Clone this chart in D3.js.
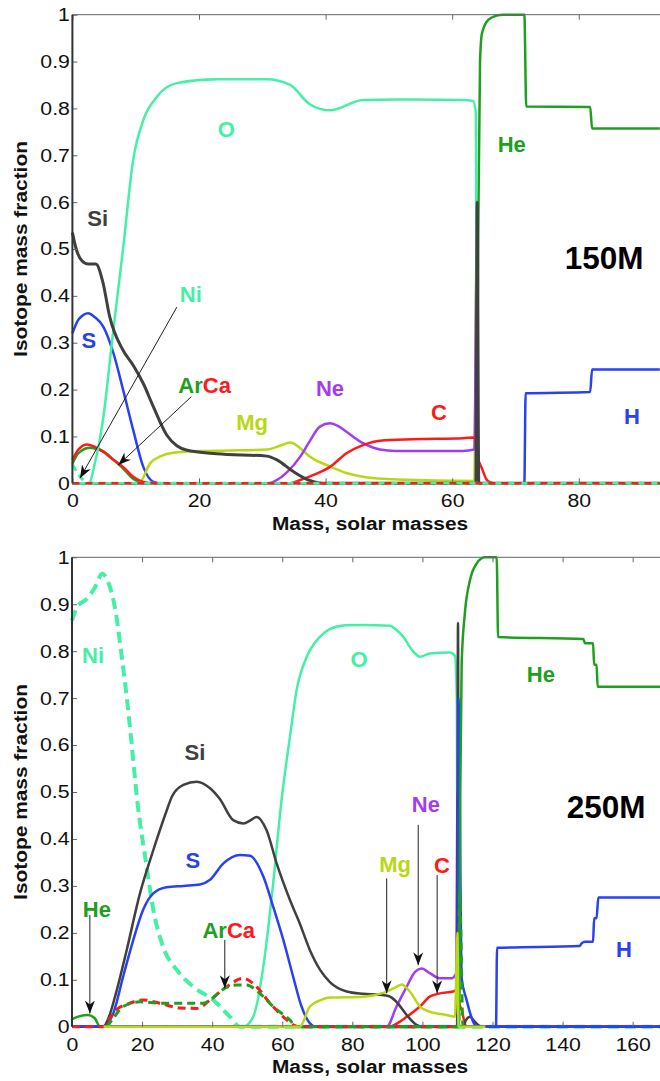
<!DOCTYPE html>
<meta charset="utf-8">
<style>
	body { margin: 0; background: #fff; }
	svg { display: block; font-family: "Liberation Sans", Arial, Helvetica, sans-serif; }
	.tick text { font-size: 18.5px; fill: #111; }
	.tick line { stroke: #666; }
	.lab { font-weight: bold; font-size: 22px; }
</style>
<script src="https://cdn.jsdelivr.net/npm/d3@7"></script>
<body>
<div id="chart"></div>
<script>
// ---------- data: 150 solar mass model (mass coordinate, mass fraction) ----------
let topSi = [[0,0.535],[0.6,0.5],[1.5,0.475],[2.5,0.468],[3.7,0.468],[4.8,0.43],[5.9,0.355],[8,0.284],[9.6,0.252],[11.2,0.213],[12.8,0.163],[14.9,0.103],[16.5,0.08],[18,0.071],[22.8,0.063],[30.7,0.058],[32.3,0.05],[34.9,0.025],[37.5,0.006],[39.5,0],[63.75,0],[63.95,0.6],[64.2,0],[92.8,0]];
let topO = [[0,0],[2.6,0],[3.5,0.04],[4.9,0.142],[6.4,0.32],[8,0.5],[9.6,0.69],[11.2,0.775],[13.3,0.824],[16.5,0.854],[22.8,0.862],[30.7,0.862],[34.4,0.85],[37.5,0.809],[40.7,0.796],[45.9,0.818],[51.2,0.819],[61.7,0.818],[63.3,0.816],[63.75,0.79],[63.9,0],[92.8,0]];
let topS = [[0,0.32],[1,0.35],[2.5,0.363],[3.5,0.355],[4.9,0.334],[6.5,0.277],[8,0.2],[9.6,0.114],[11.2,0.035],[12.8,0.003],[14,0],[92.8,0]];
let topCa = [[0,0.05],[1,0.073],[2.3,0.083],[3.5,0.078],[4.9,0.067],[6.5,0.05],[8,0.035],[9.6,0.014],[11.2,0.003],[12.5,0]];
let topAr = [[0,0.042],[1,0.065],[2.8,0.076],[4.9,0.068],[6.5,0.05],[8,0.032],[9.6,0.01],[10.8,0.002],[12,0]];
let topNi = [[0,0.04],[0.8,0.022],[1.7,0.007],[2.6,0],[92.8,0]];
let topMg = [[0,0],[10.5,0],[12.3,0.043],[14,0.058],[15.9,0.065],[20.1,0.069],[25,0.07],[30.7,0.072],[32.8,0.08],[34.4,0.087],[36,0.075],[37.5,0.057],[40.7,0.036],[43.3,0.022],[45.9,0.014],[51.3,0.008],[63.5,0.005],[63.85,0.5],[64.05,0],[92.8,0]];
let topNe = [[0,0],[31,0],[32.3,0.007],[34,0.025],[36,0.057],[37.5,0.09],[39.1,0.121],[40.7,0.128],[42,0.122],[43.3,0.11],[46,0.085],[48.6,0.072],[51,0.069],[61.7,0.069],[63.5,0.072],[63.9,0.5],[64.1,0],[92.8,0]];
let topC = [[0,0],[34,0],[36,0.007],[38.5,0.02],[40.7,0.035],[43.3,0.064],[46,0.082],[48.6,0.091],[53.8,0.094],[61.7,0.096],[63.6,0.098],[63.95,0.06],[64.7,0.032],[65.5,0.007],[66.5,0],[92.8,0]];
let topHe = [[0,0],[63.8,0],[64.1,0.5],[64.4,0.9],[64.7,0.96],[65.7,0.989],[67,0.998],[68.1,1],[71.4,1],[71.7,0.804],[81.8,0.803],[82.1,0.757],[92.8,0.757]];
let topH = [[0,0],[71.4,0],[71.6,0.192],[81.8,0.195],[82.1,0.243],[92.8,0.243]];
let topBase = [[0,0],[92.8,0]];

// ---------- data: 250 solar mass model ----------
let botNi = [[0,0.865],[1.5,0.895],[4,0.91],[6.5,0.935],[8.6,0.965],[10.2,0.95],[12.7,0.873],[14.2,0.788],[15.6,0.703],[17,0.604],[18.5,0.49],[21.3,0.341],[23.2,0.249],[26,0.17],[29.9,0.121],[34.6,0.085],[40.3,0.057],[45.1,0.021],[47.9,0],[168,0]];
let botO = [[0,0],[48.9,0],[51.7,0.021],[54.6,0.128],[57.4,0.305],[59.8,0.483],[62.2,0.618],[64.1,0.717],[67,0.788],[70.8,0.831],[73.6,0.847],[78,0.855],[83.1,0.856],[90.7,0.854],[92.6,0.845],[94.5,0.831],[97.4,0.799],[99.3,0.788],[102.1,0.795],[107.8,0.797],[109.3,0.79],[109.8,0.7],[110.1,0],[168,0]];
let botSi = [[0,0],[8.9,0],[10.5,0.02],[12.5,0.07],[15.6,0.163],[19.4,0.284],[23.2,0.376],[27,0.46],[28.5,0.49],[31.8,0.515],[35.6,0.522],[39.4,0.508],[42.2,0.485],[46,0.44],[48.9,0.433],[51,0.44],[52.7,0.447],[55.5,0.419],[58.4,0.348],[62.2,0.27],[65,0.22],[67.9,0.163],[70.8,0.121],[73.6,0.095],[78.4,0.075],[83,0.07],[87.9,0.068],[90.5,0.065],[92.6,0.053],[95.5,0.025],[98.3,0.004],[100,0],[109.9,0],[110.15,0.86],[110.4,0],[111.5,0],[112.5,0.015],[113.6,0.021],[115,0.01],[117,0],[168,0]];
let botS = [[0,0],[8.9,0],[10.3,0.008],[11.8,0.029],[14.6,0.107],[17.5,0.185],[20.3,0.249],[23.2,0.284],[27,0.297],[31.8,0.3],[36.5,0.303],[39.4,0.313],[43.2,0.348],[47.9,0.366],[50.8,0.364],[54.6,0.32],[57.4,0.256],[60.3,0.185],[63.1,0.107],[65.5,0.043],[67.9,0.007],[69.5,0],[110,0],[110.3,0.7],[111.2,0.103],[112.5,0.06],[114.5,0.01],[115.5,0],[168,0]];
let botCa = [[0,0],[8.9,0],[10.5,0.015],[12.7,0.036],[16.5,0.05],[20.3,0.057],[25.1,0.05],[30.8,0.04],[35.6,0.039],[39.4,0.057],[44.1,0.085],[48.9,0.103],[52.7,0.085],[56.5,0.05],[60.3,0.021],[63.1,0.004],[64.5,0],[110,0]];
let botAr = [[9.9,0],[11.5,0.015],[14.6,0.043],[19.4,0.053],[25.1,0.05],[32.7,0.05],[37.5,0.05],[40,0.06],[42.2,0.075],[47,0.089],[49.8,0.089],[53.6,0.071],[57.4,0.043],[62.2,0.014],[64.1,0],[110.4,0],[110.6,0.29],[111.6,0],[112,0]];
let botHe = [[0,0.016],[2,0.022],[4.6,0.025],[6.5,0.018],[8,0],[110.4,0],[110.8,0.5],[111.2,0.774],[112.1,0.88],[113.6,0.952],[115.5,0.987],[117.8,1],[121.2,1],[121.6,0.83],[145.9,0.826],[146.4,0.817],[148.7,0.817],[149,0.771],[149.7,0.771],[150,0.724],[168,0.724]];
let botH = [[0,0],[121,0],[121.3,0.168],[144.9,0.172],[145.5,0.178],[146.4,0.181],[148.7,0.181],[149,0.231],[149.7,0.231],[150.2,0.275],[168,0.275]];
let botMg = [[9,0],[65,0],[67.9,0.043],[70.8,0.056],[73.6,0.062],[83.1,0.064],[88.8,0.072],[92.6,0.085],[94.1,0.09],[96.4,0.075],[99.3,0.043],[102.1,0.032],[106.9,0.025],[109.3,0.021],[110,0.2],[110.3,0],[118,0]];
let botNe = [[0,0],[89.8,0],[92.6,0.043],[95.5,0.085],[97.9,0.117],[99.8,0.124],[102.1,0.114],[105,0.103],[108.3,0.103],[109.6,0.114],[110.05,0.5],[110.3,0],[168,0]];
let botC = [[0,0],[90.7,0],[93,0.008],[95.5,0.021],[99.3,0.043],[102.1,0.064],[105,0.071],[108.8,0.075],[109.7,0.08],[110.1,0.12],[110.5,0.05],[111.2,0.036],[112.5,0],[168,0]];
let botBase = [[0,0],[168,0]];

// tick values
let yTicks = d3.range(0, 11).map(i => i / 10);
let topXTicks = [0, 20, 40, 60, 80];
let botXTicks = [0, 20, 40, 60, 80, 100, 120, 140, 160];

// label annotations [text, x, y, colour key] in data units
let topLabels = [["Si",4.0,0.549,"Si"],["O",24.3,0.739,"O"],["S",2.6,0.289,"S"],["Ni",18.7,0.387,"O"],["Mg",28.4,0.114,"Mg"],["Ne",40.7,0.186,"Ne"],["C",57.9,0.135,"C"],["H",88.4,0.126,"H"],["He",69.4,0.707,"He"]];
let botLabels = [["Ni",6.0,0.775,"O"],["Si",35.1,0.569,"Si"],["O",81.9,0.766,"O"],["He",133.8,0.734,"He"],["S",34.5,0.338,"S"],["He",7.1,0.234,"He"],["Mg",92.2,0.33,"Mg"],["C",105.6,0.328,"C"],["Ne",101,0.457,"Ne"],["H",157.5,0.149,"H"]];
let topArCa = [20.6, 0.193];
let botArCa = [44.2, 0.189];
// arrows [x1, y1, x2(tip), y2(tip)]
let topArrows = [[16.5,0.376,1.2,0.011],[18.8,0.185,7.25,0.039]];
let botArrows = [[5.1,0.238,5.1,0.028],[43.6,0.185,43.6,0.082],[89.8,0.316,89.8,0.071],[98.8,0.43,98.8,0.131],[104.2,0.323,104.2,0.071]];

let col = {
	Si: "#404040", O: "#44f0a6", S: "#2a40f5", Ni: "#44f0a6", Ar: "#1ea01e",
	Ca: "#ff1a1a", Mg: "#b8d814", Ne: "#a23cf2", C: "#ff1a1a", He: "#1ea01e", H: "#2a40f5"
};

let svg = d3.select("#chart").append("svg")
	.attr("width", 660)
	.attr("height", 1081);

svg.append("defs").append("marker")
	.attr("id", "head")
	.attr("viewBox", "-13 -5 14 10")
	.attr("refX", 0).attr("refY", 0)
	.attr("markerUnits", "userSpaceOnUse")
	.attr("markerWidth", 14).attr("markerHeight", 10)
	.attr("orient", "auto")
	.append("path")
	.attr("d", "M0,0 L-13,-5 L-9,0 L-13,5 Z")
	.attr("fill", "#111");

function drawPanel(p) {
	let x = d3.scaleLinear().domain([0, p.xmax]).range([p.x0, 660]);
	let y = d3.scaleLinear().domain([0, 1]).range([p.y1, p.y0]);
	let g = svg.append("g");

	let line = d3.line()
		.x(d => x(d[0]))
		.y(d => y(d[1]))
		.curve(d3.curveMonotoneX);

	// lines
	p.series.forEach(s => {
		g.append("path")
			.attr("d", line(s.d))
			.attr("fill", "none")
			.attr("stroke", s.c)
			.attr("stroke-width", s.w || 2.5)
			.attr("stroke-dasharray", s.dash || null)
			.attr("stroke-linejoin", "round");
	});

	// axes, Matlab style with ticks pointing in
	let ya = g.append("g")
		.attr("transform", `translate(${p.x0},0)`)
		.call(d3.axisLeft(y).tickValues(yTicks).tickSize(-5).tickPadding(2.5)
			.tickFormat(d => String(d)));
	ya.select(".domain").remove();
	ya.selectAll("text").attr("x", -2.5 / 1.15).attr("transform", "scale(1.15,1)");

	let xa = g.append("g")
		.attr("transform", `translate(0,${p.y1})`)
		.call(d3.axisBottom(x).tickValues(p.xticks).tickSize(-5).tickPadding(11));
	xa.select(".domain").remove();
	xa.selectAll("text").attr("transform", "scale(1.15,1)");

	let xt = g.append("g")
		.attr("transform", `translate(0,${p.y0})`)
		.call(d3.axisTop(x).tickValues(p.xticks).tickSize(-5).tickFormat(""));
	xt.select(".domain").remove();

	g.append("line")
		.attr("x1", p.x0).attr("x2", 660)
		.attr("y1", p.y0).attr("y2", p.y0)
		.attr("stroke", "#666").attr("stroke-width", 1);
	g.append("line")
		.attr("x1", p.x0).attr("x2", p.x0)
		.attr("y1", p.y0).attr("y2", p.y1)
		.attr("stroke", "#333").attr("stroke-width", 2);

	// axis titles
	g.append("text")
		.attr("transform", `translate(370,${p.xLabY}) scale(1.13,1)`)
		.attr("text-anchor", "middle")
		.style("font-weight", "bold").style("font-size", "18.5px")
		.attr("fill", "#111")
		.text("Mass, solar masses");
	g.append("text")
		.attr("transform", `translate(27,${(p.y0 + p.y1) / 2}) rotate(-90) scale(1.13,1)`)
		.attr("text-anchor", "middle")
		.style("font-weight", "bold").style("font-size", "18.5px")
		.attr("fill", "#111")
		.text("Isotope mass fraction");

	// arrows
	p.arrows.forEach(a => {
		g.append("line")
			.attr("x1", x(a[0])).attr("y1", y(a[1]))
			.attr("x2", x(a[2])).attr("y2", y(a[3]))
			.attr("stroke", "#222").attr("stroke-width", 1)
			.attr("marker-end", "url(#head)");
	});

	// element labels
	p.labels.forEach(l => {
		g.append("text")
			.attr("class", "lab")
			.attr("x", x(l[1])).attr("y", y(l[2]))
			.attr("text-anchor", "middle")
			.attr("fill", col[l[3]])
			.text(l[0]);
	});
	g.append("text").attr("class", "lab")
		.attr("x", x(p.arca[0])).attr("y", y(p.arca[1]))
		.attr("text-anchor", "end").attr("fill", col.Ar).text("Ar");
	g.append("text").attr("class", "lab")
		.attr("x", x(p.arca[0])).attr("y", y(p.arca[1]))
		.attr("text-anchor", "start").attr("fill", col.Ca).text("Ca");

	g.append("text")
		.attr("x", x(p.title[1])).attr("y", y(p.title[2]))
		.attr("text-anchor", "middle")
		.style("font-weight", "bold").style("font-size", "31.5px")
		.attr("fill", "#000")
		.text(p.title[0]);
}

drawPanel({
	x0: 72.4, y0: 14.7, y1: 483.3, xmax: 92.83, xticks: topXTicks, xLabY: 530,
	series: [
		{ d: topS, c: col.S }, { d: topMg, c: col.Mg }, { d: topNe, c: col.Ne },
		{ d: topC, c: col.C }, { d: topAr, c: col.Ar }, { d: topCa, c: col.Ca },
		{ d: topH, c: col.H }, { d: topHe, c: col.He }, { d: topO, c: col.O },
		{ d: topSi, c: col.Si, w: 3 },
		{ d: topNi, c: col.Ni, dash: "7,5", w: 3 },
		{ d: topBase, c: col.O },
		{ d: topBase, c: col.Ca, dash: "7,6" }
	],
	arrows: topArrows, labels: topLabels, arca: topArCa,
	title: ["150M", 84.0, 0.457]
});

drawPanel({
	x0: 72, y0: 557.3, y1: 1026.7, xmax: 167.8, xticks: botXTicks, xLabY: 1073,
	series: [
		{ d: botO, c: col.O }, { d: botNi, c: col.Ni, dash: "11,6", w: 4 },
		{ d: botNe, c: col.Ne }, { d: botC, c: col.C },
		{ d: botSi, c: col.Si }, { d: botS, c: col.S }, { d: botHe, c: col.He },
		{ d: botH, c: col.H },
		{ d: botBase, c: col.S, dash: "7,6" },
		{ d: botCa, c: col.Ca, dash: "8,5", w: 3 }, { d: botAr, c: col.Ar, dash: "8,5", w: 3 },
		{ d: botMg, c: col.Mg }
	],
	arrows: botArrows, labels: botLabels, arca: botArCa,
	title: ["250M", 152.4, 0.445]
});
</script>
</body>
